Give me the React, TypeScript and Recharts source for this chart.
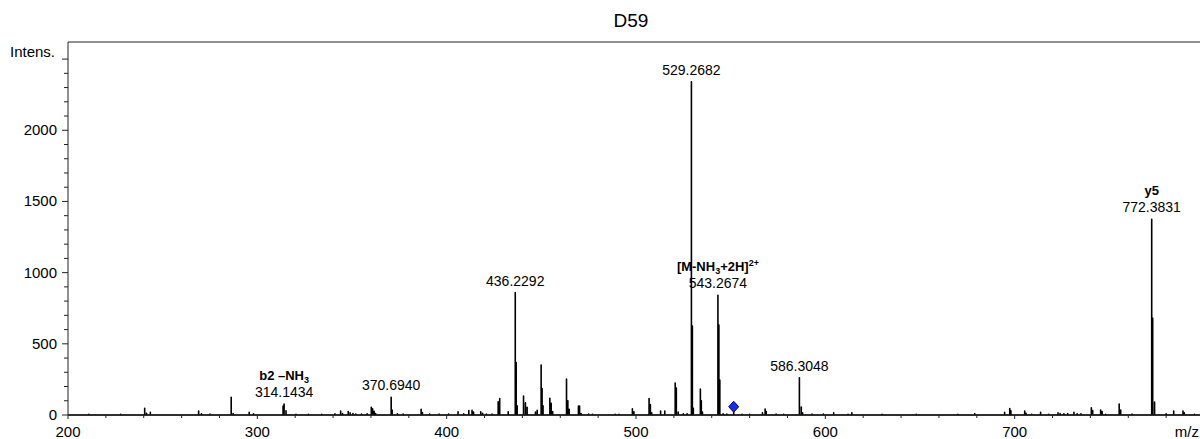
import { ComposedChart, Line, ReferenceLine, Scatter, XAxis, YAxis } from "recharts";

const FONT = "'Liberation Sans', Arial, Helvetica, sans-serif";
const AXIS = "#222";

// peak positions (m/z) and intensities
const peakMz = [
  211, 227.8, 240.5, 241.5, 243.5, 269, 270.5, 275, 286.2, 287.2, 295.7, 298,
  313.6, 314.14, 315.15, 320.4, 327, 334, 341, 344, 345, 348, 349, 350.5, 352, 355, 358,
  360.2, 360.9, 361.7, 362.5, 370.69, 371.2, 374, 377, 386.5, 387.2, 391, 396,
  401, 406, 409, 411.7, 413.4, 414.2, 418, 419, 421, 424, 427.2, 428, 432.5,
  436.23, 436.73, 437.23, 440.6, 441.6, 442.5, 446.9, 447.8, 449.9, 450.4, 450.9,
  454.5, 455.2, 456, 463.3, 464, 464.7, 469.6, 470.2, 471, 475, 477, 489, 491, 498.1, 498.9,
  506.9, 507.6, 508.3, 513, 515.2, 520.7, 521.3, 522.3, 525, 527, 529.27, 529.77, 530.27,
  534, 534.5, 535.1, 543.27, 543.77, 544.27, 546, 548, 551.6, 556, 560, 566.8, 568.2, 568.8,
  574, 578, 586.3, 587.3, 588, 593, 599,
  604.4, 612, 614, 630, 648, 670, 678.9, 694.7, 697.4, 698, 705.3, 706, 709, 713.7, 718,
  722.9, 724, 726, 728, 731.3, 733, 735, 740.5, 741.2, 745.4, 746.2, 748, 755.2, 756, 762,
  772.38, 772.9, 773.9, 780, 784, 788.9, 789.6, 795
];
const peakIntensity = [
  5, 5, 47, 12, 19, 28, 8, 6, 124, 10, 19, 8,
  62, 77, 30, 5, 5, 5, 8, 28, 10, 24, 16, 10, 6, 6, 8,
  54, 43, 26, 10, 124, 35, 8, 6, 40, 18, 6, 6,
  6, 23, 8, 31, 33, 20, 23, 12, 6, 6, 93, 116, 23,
  860, 369, 64, 133, 85, 54, 20, 33, 351, 186, 64,
  117, 82, 25, 252, 100, 40, 63, 63, 10, 6, 5, 5, 5, 43, 22,
  116, 74, 15, 28, 28, 224, 190, 20, 8, 8, 2340, 624, 47,
  182, 100, 20, 841, 631, 245, 8, 6, 20, 5, 5, 15, 42, 25,
  6, 5, 262, 56, 15, 6, 6,
  15, 5, 15, 5, 5, 5, 10, 19, 45, 30, 28, 12, 5, 19, 5,
  16, 10, 8, 10, 19, 8, 8, 51, 31, 35, 25, 5, 77, 35, 6,
  1375, 680, 91, 8, 28, 28, 15, 5
];

// annotated peaks
const labelMz = [314.14, 370.69, 436.23, 529.27, 543.27, 586.3, 772.38];
const labelIntensity = [77, 124, 860, 2340, 841, 262, 1375];
const labelText = ["314.1434", "370.6940", "436.2292", "529.2682", "543.2674", "586.3048", "772.3831"];
const labelName = ["b2 \u2013NH_3", "", "", "", "[M-NH_3+2H]^2+", "", "y5"];

// precursor marker
const precursorMz = [551.6];
const precursorIntensity = [58];

const xTicks = Array.from({ length: 30 }, (_, k) => 200 + k * 20);
const yTicks = Array.from({ length: 26 }, (_, k) => k * 100);

const spectrum = [{ mz: 200, i: 0 }];
peakMz
  .map((m, k) => ({ m, v: peakIntensity[k] }))
  .sort((a, b) => a.m - b.m)
  .forEach(({ m, v }) => {
    spectrum.push({ mz: m, i: 0 }, { mz: m, i: v }, { mz: m, i: 0 });
  });
spectrum.push({ mz: 800, i: 0 });

const labels = labelMz.map((mz, k) => ({
  mz,
  i: labelIntensity[k],
  text: labelText[k],
  name: labelName[k]
}));
const precursor = precursorMz.map((mz, k) => ({ mz, i: precursorIntensity[k] }));

function renderName(name: string) {
  const parts = name.split(/(_\d|\^\S+)/).filter((p) => p !== "");
  const out: React.ReactNode[] = [];
  let shift = 0;
  parts.forEach((p, k) => {
    if (p.startsWith("_")) {
      out.push(<tspan key={k} dy={3 - shift} fontSize={9}>{p.slice(1)}</tspan>);
      shift = 3;
    } else if (p.startsWith("^")) {
      out.push(<tspan key={k} dy={-5 - shift} fontSize={9}>{p.slice(1)}</tspan>);
      shift = -5;
    } else {
      out.push(<tspan key={k} dy={-shift}>{p}</tspan>);
      shift = 0;
    }
  });
  return out;
}

function YTick(props: any) {
  const { x, y, payload } = props;
  const v = payload.value;
  const major = v % 500 === 0;
  return (
    <g>
      <line x1={x - (major ? 6 : 4)} x2={x} y1={y} y2={y} stroke={AXIS} />
      {major && v <= 2000 && (
        <text x={x - 11} y={y + 5} textAnchor="end" fontSize={15} fontFamily={FONT} fill="#000">
          {v}
        </text>
      )}
    </g>
  );
}

function XTick(props: any) {
  const { x, y, payload } = props;
  const v = payload.value;
  const major = v % 100 === 0;
  return (
    <g>
      <line x1={x} x2={x} y1={y} y2={y + (major ? 4 : 3)} stroke={AXIS} />
      {major && (
        <text x={x} y={y + 22} textAnchor="middle" fontSize={15} fontFamily={FONT} fill="#000">
          {v}
        </text>
      )}
    </g>
  );
}

function UnitLabel(props: any) {
  const { viewBox } = props;
  return (
    <text
      x={viewBox.x + viewBox.width - 5}
      y={viewBox.y + 22}
      textAnchor="end"
      fontSize={15}
      fontFamily={FONT}
      fill="#000"
    >
      m/z
    </text>
  );
}

function PeakLabel(props: any) {
  const { cx, cy, payload } = props;
  return (
    <g fontFamily={FONT} fill="#000">
      {payload.name && (
        <text x={cx} y={cy - 24} textAnchor="middle" fontSize={13} fontWeight="bold">
          {renderName(payload.name)}
        </text>
      )}
      <text x={cx} y={cy - 7} textAnchor="middle" fontSize={14}>
        {payload.text}
      </text>
    </g>
  );
}

function Diamond(props: any) {
  const { cx, cy } = props;
  return (
    <polygon
      points={`${cx},${cy - 5.5} ${cx + 5},${cy} ${cx},${cy + 5.5} ${cx - 5},${cy}`}
      fill="#1030f0"
      stroke="#00008b"
      strokeWidth={1}
    />
  );
}

export default function App() {
  return (
    <div
      style={{
        position: "absolute",
        left: 0,
        top: 0,
        width: 1200,
        height: 439,
        overflow: "hidden",
        background: "#fff",
        fontFamily: FONT
      }}
    >
      <div
        style={{
          position: "absolute",
          left: 581,
          top: 11,
          width: 100,
          textAlign: "center",
          fontSize: 19,
          lineHeight: "19px"
        }}
      >
        D59
      </div>
      <div style={{ position: "absolute", left: 10, top: 44, fontSize: 15, lineHeight: "15px" }}>Intens.</div>
      <ComposedChart width={1220} height={439} margin={{ top: 42, right: 16, left: 0, bottom: 0 }}>
        <XAxis
          dataKey="mz"
          type="number"
          domain={[200, 800]}
          ticks={xTicks}
          interval={0}
          tick={<XTick />}
          tickLine={false}
          tickSize={0}
          tickMargin={0}
          height={24}
          stroke={AXIS}
          label={{ value: "m/z", content: <UnitLabel /> }}
        />
        <YAxis
          type="number"
          domain={[0, 2620]}
          ticks={yTicks}
          interval={0}
          tick={<YTick />}
          tickLine={false}
          tickSize={0}
          tickMargin={0}
          width={68}
          stroke={AXIS}
        />
        <ReferenceLine y={2620} stroke={AXIS} />
        <Line
          data={spectrum}
          dataKey="i"
          type="linear"
          stroke="#000"
          strokeWidth={1.6}
          strokeLinejoin="round"
          dot={false}
          isAnimationActive={false}
        />
        <Scatter data={precursor} dataKey="i" shape={<Diamond />} isAnimationActive={false} />
        <Scatter data={labels} dataKey="i" shape={<PeakLabel />} isAnimationActive={false} />
      </ComposedChart>
    </div>
  );
}
